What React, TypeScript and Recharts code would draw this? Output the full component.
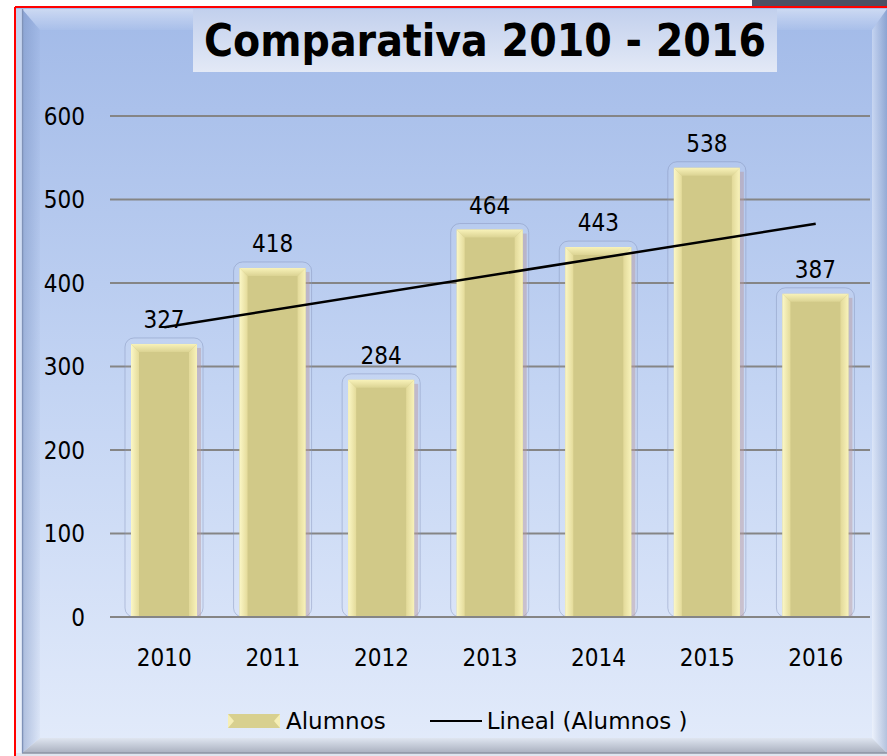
import React from "react";
import {
  Bar,
  CartesianGrid,
  ComposedChart,
  LabelList,
  Legend,
  Line,
  XAxis,
  YAxis,
} from "recharts";

const years = ["2010", "2011", "2012", "2013", "2014", "2015", "2016"];
const alumnos = [327, 418, 284, 464, 443, 538, 387];
// linear trend line, read at its two ends
const trend = [347, null, null, null, null, null, 471];
const yTicks = [0, 100, 200, 300, 400, 500, 600];

const data = years.map((year, i) => ({
  year,
  alumnos: alumnos[i],
  trend: trend[i],
}));

const font = "'DejaVu Sans Condensed', 'DejaVu Sans', sans-serif";
const legendFont = "'DejaVu Sans', sans-serif";

function BevelBar(props: any) {
  const { x, y, width: w, height: h } = props;
  if (!h || h <= 0) return null;
  const b = 8;
  return (
    <g>
      <rect
        x={x - 6}
        y={y - 6}
        width={w + 12}
        height={h + 6}
        rx={9}
        fill="rgba(255,255,255,0.06)"
        stroke="#8090b8"
        strokeOpacity={0.45}
        strokeWidth={1}
      />
      <rect x={x + w} y={y + 4} width={4} height={h - 4} fill="#b8979c" opacity={0.45} />
      <rect x={x} y={y} width={w} height={h} fill="#d1c988" />
      <polygon
        points={`${x},${y} ${x + b},${y + b} ${x + b},${y + h} ${x},${y + h}`}
        fill="url(#bevL)"
      />
      <polygon
        points={`${x + w},${y} ${x + w},${y + h} ${x + w - b},${y + h} ${x + w - b},${y + b}`}
        fill="url(#bevR)"
      />
      <polygon
        points={`${x},${y} ${x + w},${y} ${x + w - b},${y + b} ${x + b},${y + b}`}
        fill="url(#bevT)"
      />
    </g>
  );
}

function renderLegend() {
  return (
    <div
      style={{
        display: "flex",
        alignItems: "center",
        fontFamily: legendFont,
        fontSize: 23,
        color: "#000",
        whiteSpace: "nowrap",
      }}
    >
      <svg width={52} height={14} style={{ marginRight: 6 }}>
        <rect x={0} y={0} width={52} height={14} fill="#d8d08f" />
        <polygon points="0,0 6,7 0,14" fill="#f6efb6" />
        <polygon points="52,0 46,7 52,14" fill="#f6efb6" />
      </svg>
      <span>Alumnos</span>
      <svg width={52} height={4} style={{ marginLeft: 44, marginRight: 5 }}>
        <line x1={0} y1={2} x2={52} y2={2} stroke="#000" strokeWidth={2} />
      </svg>
      <span>Lineal (Alumnos )</span>
    </div>
  );
}

function Frame() {
  return (
    <svg width={887} height={756} style={{ position: "absolute", left: 0, top: 0 }}>
      <defs>
        <linearGradient id="panel" x1="0" y1="0" x2="0" y2="1">
          <stop offset="0" stopColor="#a2bae8" />
          <stop offset="0.5" stopColor="#c3d4f3" />
          <stop offset="1" stopColor="#e4ecfb" />
        </linearGradient>
        <linearGradient id="topBev" x1="0" y1="0" x2="0" y2="1">
          <stop offset="0" stopColor="#ffffff" stopOpacity={0.45} />
          <stop offset="1" stopColor="#ffffff" stopOpacity={0.05} />
        </linearGradient>
        <linearGradient id="botBev" x1="0" y1="0" x2="0" y2="1">
          <stop offset="0" stopColor="#dfe5f0" />
          <stop offset="1" stopColor="#a9b0bf" />
        </linearGradient>
        <linearGradient id="leftBev" x1="0" y1="0" x2="1" y2="0">
          <stop offset="0" stopColor="#6f88ba" stopOpacity={0.45} />
          <stop offset="1" stopColor="#6f88ba" stopOpacity={0.05} />
        </linearGradient>
        <linearGradient id="rightBev" x1="0" y1="0" x2="1" y2="0">
          <stop offset="0" stopColor="#ffffff" stopOpacity={0.35} />
          <stop offset="1" stopColor="#5f78a8" stopOpacity={0.35} />
        </linearGradient>
      </defs>
      <rect x={0} y={0} width={887} height={756} fill="#ffffff" />
      <rect x={752} y={0} width={135} height={6} fill="#4b5064" />
      <rect x={15} y={7} width={880} height={760} fill="url(#panel)" />
      <polygon points="22,9 887,9 872,30 40,30" fill="url(#topBev)" />
      <polygon points="22,9 40,30 40,738 22,753" fill="url(#leftBev)" />
      <polygon points="887,9 872,30 872,738 887,753" fill="url(#rightBev)" />
      <polygon points="22,753 40,738 872,738 887,753" fill="url(#botBev)" />
      <rect x={16} y={753} width={871} height={3} fill="#dfe5ef" />
      <line x1={22} y1={753} x2={887} y2={753} stroke="#8c93a3" strokeWidth={1.5} />
      <line x1={22.5} y1={9} x2={22.5} y2={753} stroke="#7f92b8" strokeWidth={1.5} />
      <rect x={16} y={9} width={6} height={744} fill="#ffffff" opacity={0.35} />
      <line x1={15} y1={7} x2={887} y2={7} stroke="#ff0000" strokeWidth={2} />
      <line x1={15} y1={7} x2={15} y2={756} stroke="#ff0000" strokeWidth={2} />
    </svg>
  );
}

export default function App() {
  return (
    <div style={{ position: "absolute", left: 0, top: 0, width: 887, height: 756 }}>
      <Frame />
      <div
        style={{
          position: "absolute",
          left: 193,
          top: 9,
          width: 584,
          height: 63,
          background: "linear-gradient(#c2d0ed, #e3e9f6)",
          fontFamily: font,
          fontWeight: "bold",
          fontSize: 44,
          lineHeight: "63px",
          textAlign: "center",
          color: "#000",
        }}
      >
        Comparativa 2010 - 2016
      </div>
      <div style={{ position: "absolute", left: 0, top: 0 }}>
        <ComposedChart
          width={887}
          height={756}
          data={data}
          margin={{ top: 116, right: 17, left: 20, bottom: 79 }}
          barSize={66}
        >
          <defs>
            <linearGradient id="bevL" x1="0" y1="0" x2="1" y2="0">
              <stop offset="0" stopColor="#fbf7c6" />
              <stop offset="1" stopColor="#e4db9a" />
            </linearGradient>
            <linearGradient id="bevR" x1="0" y1="0" x2="1" y2="0">
              <stop offset="0" stopColor="#e2d999" />
              <stop offset="1" stopColor="#f8f2ba" />
            </linearGradient>
            <linearGradient id="bevT" x1="0" y1="0" x2="0" y2="1">
              <stop offset="0" stopColor="#f8f2b9" />
              <stop offset="1" stopColor="#dbd393" />
            </linearGradient>
          </defs>
          <CartesianGrid vertical={false} stroke="#858585" strokeWidth={2} />
          <XAxis
            dataKey="year"
            height={60}
            tickLine={false}
            tickSize={0}
            tickMargin={32}
            axisLine={{ stroke: "#858585", strokeWidth: 2 }}
            tick={{ fill: "#000", fontSize: 24, fontFamily: font }}
          />
          <YAxis
            width={90}
            domain={[0, 600]}
            ticks={yTicks}
            axisLine={false}
            tickLine={false}
            tickSize={0}
            tickMargin={25}
            tick={{ fill: "#000", fontSize: 24, fontFamily: font }}
          />
          <Bar dataKey="alumnos" name="Alumnos" shape={BevelBar} isAnimationActive={false}>
            <LabelList
              dataKey="alumnos"
              position="top"
              offset={16}
              fill="#000"
              fontSize={24}
              fontFamily={font}
            />
          </Bar>
          <Line
            dataKey="trend"
            name="Lineal (Alumnos )"
            type="linear"
            stroke="#000"
            strokeWidth={2.5}
            dot={false}
            connectNulls
            isAnimationActive={false}
          />
          <Legend
            verticalAlign="middle"
            align="center"
            content={renderLegend}
            wrapperStyle={{ position: "absolute", top: 708, left: 228, width: "auto" }}
          />
        </ComposedChart>
      </div>
    </div>
  );
}
